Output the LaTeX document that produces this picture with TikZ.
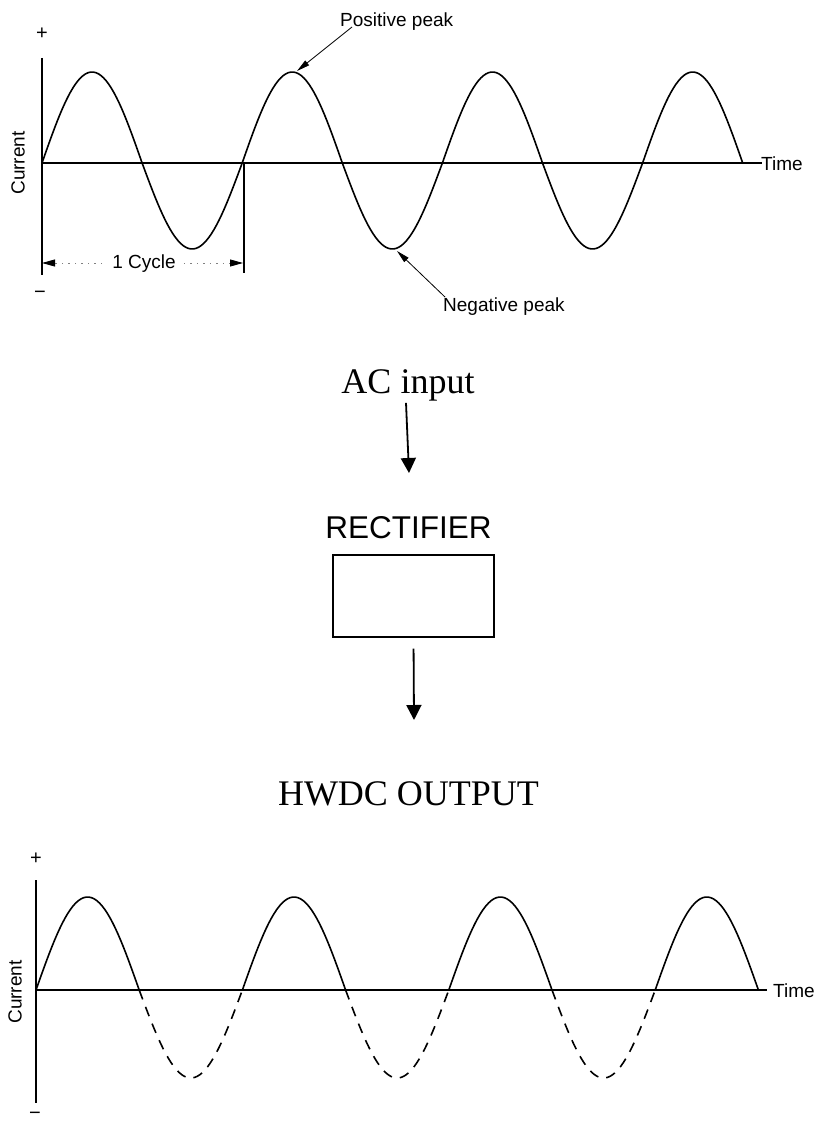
\documentclass[tikz,border=0pt]{standalone}
\usepackage{fontspec}
\setmainfont{Liberation Sans}
\newfontfamily\serifbig{Liberation Serif}
\usetikzlibrary{arrows.meta,positioning}

\begin{document}
\begin{tikzpicture}[x=1pt, y=-1pt,
    wave/.style={line width=1.6pt, line join=round},
    clipped/.style={line width=1.6pt, dash pattern=on 10pt off 8pt},
    axis/.style={line width=1.4pt},
    lbl/.style={font=\fontsize{19}{22}\selectfont, inner sep=0pt},
    sign/.style={font=\fontsize{20}{22}\selectfont, inner sep=0pt},
    peakarrow/.style={-{Triangle[length=13pt, width=6pt]}, line width=0.8pt},
    cycarrow/.style={-{Triangle[length=13pt, width=7pt, color=black]}, line width=0.9pt, gray, dash pattern=on 1.5pt off 5pt},
    flow/.style={-{Triangle[length=15pt, width=15pt]}, line width=1.8pt},
    big/.style={font=\serifbig\fontsize{36}{40}\selectfont, inner sep=2pt}]
  \useasboundingbox (0,0) rectangle (817,1126);
  % AC waveform
  \draw[axis] (42,58) -- (42,275);
  \draw[axis] (42,163) -- (762,163);
  \node[lbl, anchor=base west] (time1) at (761,171) {Time};
  \node[lbl, rotate=90] (cur1) at (18,163) {Current};
  \node[sign] (plus1) at (42,34) {+};
  \node[sign] (minus1) at (40,295) {−};
  \foreach \k in {0,2,4,6}
    \draw[wave] plot[domain=0:180, samples=40] ({42+100.1*(\k+\x/180)}, {163-91*sin(\x)});
  \foreach \k in {1,3,5}
    \draw[wave] plot[domain=0:180, samples=40] ({42+100.1*(\k+\x/180)}, {163+86*sin(\x)});
  % one cycle
  \draw[axis] (244,163) -- (244,273);
  \node[lbl, anchor=base] (cyc) at (144,268) {1 Cycle};
  \coordinate (cycL) at (42,263);
  \coordinate (cycR) at (243,263);
  \draw[cycarrow, shorten <=10pt] (cyc.west |- cycL) -- (cycL);
  \draw[cycarrow, shorten <=8pt] (cyc.east |- cycR) -- (cycR);
  % peaks
  \node[lbl, anchor=base west] (pos) at (340,27) {Positive peak};
  \coordinate (pospk) at (297,71);
  \draw[peakarrow] ([xshift=12pt]pos.base west) -- (pospk);
  \node[lbl, anchor=base west] (neg) at (443,311) {Negative peak};
  \coordinate (negpk) at (397,251);
  \draw[peakarrow] ([xshift=2pt]neg.north west) -- (negpk);
  % rectifier block
  \node[big, anchor=base] (acin) at (408,393) {AC input};
  \coordinate (acend) at (409,473);
  \draw[flow] ([xshift=-2pt]acin.south) -- (acend);
  \node[draw, line width=1.3pt, minimum width=161pt, minimum height=82pt, inner sep=0pt] (rect) at (413.5,596) {};
  \node[font=\fontsize{31.5}{34}\selectfont, inner sep=0pt, above=15pt of rect, xshift=-5pt] (rectlbl) {RECTIFIER};
  \coordinate (outend) at (414,720);
  \draw[flow, shorten <=11pt] (rect.south) -- (outend);
  \node[big, anchor=base] (hwdc) at (408.5,805) {HWDC OUTPUT};
  % half wave output
  \draw[axis] (36,880) -- (36,1103);
  \draw[axis] (36,990) -- (767,990);
  \node[lbl, anchor=base west] (time2) at (773,997) {Time};
  \node[lbl, rotate=90] (cur2) at (15,992) {Current};
  \node[sign] (plus2) at (36,859) {+};
  \node[sign] (minus2) at (35,1116) {−};
  \foreach \k in {0,2,4,6}
    \draw[wave] plot[domain=0:180, samples=40] ({36+103.2*(\k+\x/180)}, {990-93*sin(\x)});
  \foreach \k in {1,3,5}
    \draw[clipped] plot[domain=0:180, samples=40] ({36+103.2*(\k+\x/180)}, {990+88*sin(\x)});
\end{tikzpicture}
\end{document}
